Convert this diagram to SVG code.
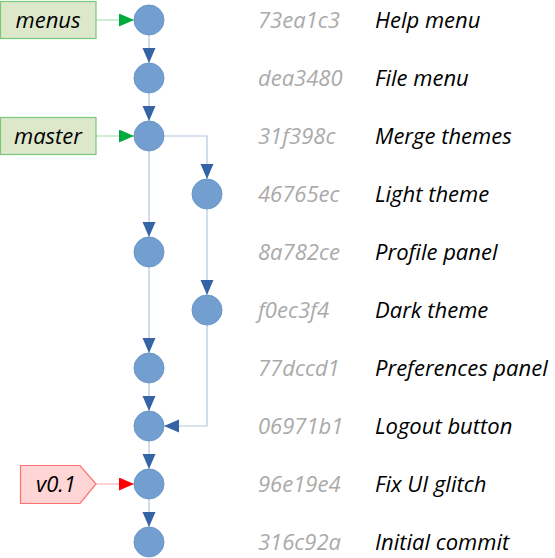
<svg xmlns="http://www.w3.org/2000/svg" width="555" height="558" viewBox="0 0 555 558">
<style>
.c{fill:#729fcf;stroke:#6a97c9;stroke-width:1}
.e{fill:none;stroke:#b4c6dc;stroke-width:1.2}
.h{font-family:"Open Sans","DejaVu Sans",sans-serif;font-style:italic;font-size:22px;fill:#aaaaaa}
.m{font-family:"Open Sans","DejaVu Sans",sans-serif;font-style:italic;font-size:22px;fill:#000000}
.lbl{font-family:"Open Sans","DejaVu Sans",sans-serif;font-style:italic;font-size:22px;fill:#000000;text-anchor:middle}
.gb{fill:#dde8cb;stroke:#77c97a;stroke-width:1.2}
.rb{fill:#ffd5d5;stroke:#ff7070;stroke-width:1.2}
</style>
<defs>
<marker id="ab" markerUnits="userSpaceOnUse" markerWidth="16" markerHeight="14" refX="15" refY="6.5" orient="auto" viewBox="0 0 16 14">
<path d="M0,0 L15,6.5 L0,13 Z" fill="#3464a5"/>
</marker>
<marker id="ag" markerUnits="userSpaceOnUse" markerWidth="16" markerHeight="14" refX="15" refY="6.5" orient="auto" viewBox="0 0 16 14">
<path d="M0,0 L15,6.5 L0,13 Z" fill="#00aa3c"/>
</marker>
<marker id="ar" markerUnits="userSpaceOnUse" markerWidth="16" markerHeight="14" refX="15" refY="6.5" orient="auto" viewBox="0 0 16 14">
<path d="M0,0 L15,6.5 L0,13 Z" fill="#ff0000"/>
</marker>
</defs>
<g id="connectors">
<path class="e" d="M149,35 V63" marker-end="url(#ab)"/>
<path class="e" d="M149,93 V121" marker-end="url(#ab)"/>
<path class="e" d="M164,136 H207 V179" marker-end="url(#ab)"/>
<path class="e" d="M149,151 V237" marker-end="url(#ab)"/>
<path class="e" d="M207,209 V295" marker-end="url(#ab)"/>
<path class="e" d="M149,267 V353" marker-end="url(#ab)"/>
<path class="e" d="M149,383 V411" marker-end="url(#ab)"/>
<path class="e" d="M207,325 V426 H164" marker-end="url(#ab)"/>
<path class="e" d="M149,441 V469" marker-end="url(#ab)"/>
<path class="e" d="M149,499 V527" marker-end="url(#ab)"/>
<path d="M96,20 H134" fill="none" stroke="#9fdca8" stroke-width="1.2" marker-end="url(#ag)"/>
<path d="M96,136 H134" fill="none" stroke="#9fdca8" stroke-width="1.2" marker-end="url(#ag)"/>
<path d="M96,484 H134" fill="none" stroke="#ffa8a8" stroke-width="1.2" marker-end="url(#ar)"/>
</g>
<g id="label-menus"><rect class="gb" x="0.5" y="1.5" width="95.5" height="37"/><text class="lbl" x="48" y="28">menus</text></g>
<g id="label-master"><rect class="gb" x="0.5" y="117.5" width="95.5" height="37"/><text class="lbl" x="48" y="144">master</text></g>
<g id="label-v01"><path class="rb" d="M20.5,465.5 H80 L96,484 L80,503.5 H20.5 Z"/><text class="lbl" x="56" y="492">v0.1</text></g>
<g id="c73ea1c3"><circle class="c" cx="149" cy="20" r="15"/><text class="h" x="258" y="28">73ea1c3</text><text class="m" x="375" y="28">Help menu</text></g>
<g id="cdea3480"><circle class="c" cx="149" cy="78" r="15"/><text class="h" x="258" y="86">dea3480</text><text class="m" x="375" y="86">File menu</text></g>
<g id="c31f398c"><circle class="c" cx="149" cy="136" r="15"/><text class="h" x="258" y="144">31f398c</text><text class="m" x="375" y="144">Merge themes</text></g>
<g id="c46765ec"><circle class="c" cx="207" cy="194" r="15"/><text class="h" x="258" y="202">46765ec</text><text class="m" x="375" y="202">Light theme</text></g>
<g id="c8a782ce"><circle class="c" cx="149" cy="252" r="15"/><text class="h" x="258" y="260">8a782ce</text><text class="m" x="375" y="260">Profile panel</text></g>
<g id="cf0ec3f4"><circle class="c" cx="207" cy="310" r="15"/><text class="h" x="258" y="318">f0ec3f4</text><text class="m" x="375" y="318">Dark theme</text></g>
<g id="c77dccd1"><circle class="c" cx="149" cy="368" r="15"/><text class="h" x="258" y="376">77dccd1</text><text class="m" x="375" y="376">Preferences panel</text></g>
<g id="c06971b1"><circle class="c" cx="149" cy="426" r="15"/><text class="h" x="258" y="434">06971b1</text><text class="m" x="375" y="434">Logout button</text></g>
<g id="c96e19e4"><circle class="c" cx="149" cy="484" r="15"/><text class="h" x="258" y="492">96e19e4</text><text class="m" x="375" y="492">Fix UI glitch</text></g>
<g id="c316c92a"><circle class="c" cx="149" cy="542" r="15"/><text class="h" x="258" y="550">316c92a</text><text class="m" x="375" y="550">Initial commit</text></g>
</svg>
